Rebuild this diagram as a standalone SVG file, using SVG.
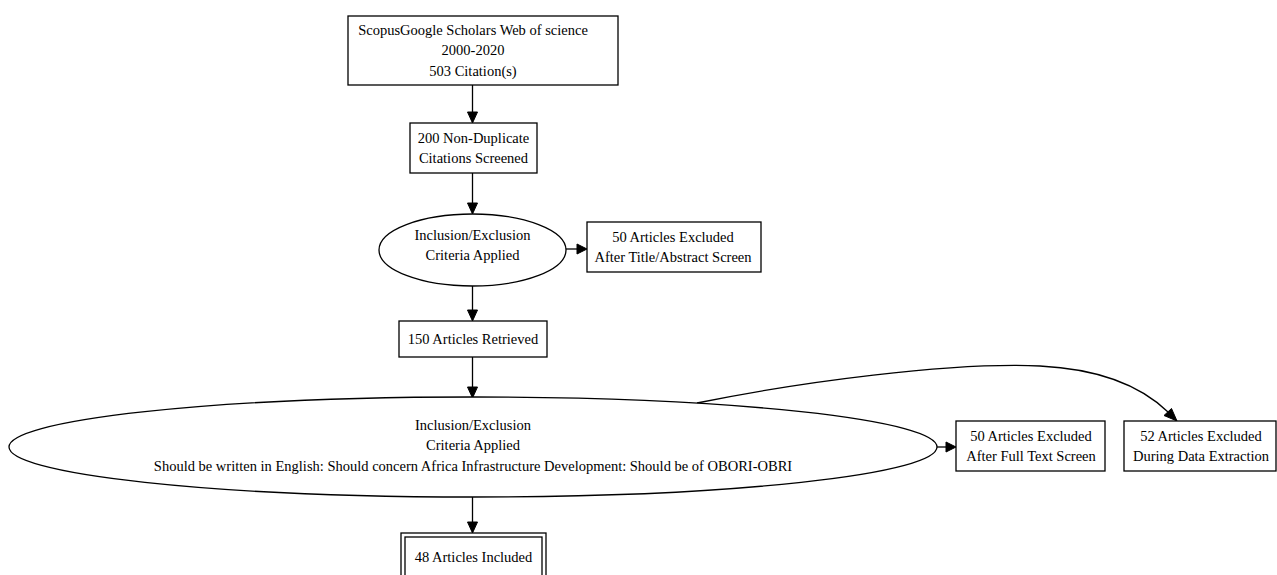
<svg xmlns="http://www.w3.org/2000/svg" width="1277" height="575" viewBox="0 0 1277 575">
<style>
.n{fill:#fff;stroke:#000;stroke-width:1.3}
.t{font-family:"Liberation Serif","Times New Roman",serif;font-size:14.5px;fill:#000;text-anchor:middle}
.e{fill:none;stroke:#000;stroke-width:1.3}
.a{fill:#000;stroke:#000;stroke-width:1}
</style>
<rect width="1277" height="575" fill="#fff"/>
<g id="edges">
<path class="e" d="M472.5,85 V112"/><polygon class="a" points="467.5,112 477.5,112 472.5,123"/>
<path class="e" d="M472.5,173 V203"/><polygon class="a" points="467.5,203 477.5,203 472.5,214"/>
<path class="e" d="M566,249 H577"/><polygon class="a" points="577,244 577,254 587,249"/>
<path class="e" d="M472.5,286 V310"/><polygon class="a" points="467.5,310 477.5,310 472.5,321"/>
<path class="e" d="M472.5,357 V387"/><polygon class="a" points="467.5,387 477.5,387 472.5,398"/>
<path class="e" d="M937,447 H946"/><polygon class="a" points="946,442 946,452 956,447"/>
<path class="e" d="M697,403 C800,382 950,362 1040,366 C1100,369 1140,385 1168,412"/><polygon class="a" points="1164,415.5 1171.5,408.5 1177,421"/>
<path class="e" d="M472.5,497 V522"/><polygon class="a" points="467.5,522 477.5,522 472.5,533"/>
</g>
<g id="n1"><rect class="n" x="348" y="16" width="270" height="69"/>
<text class="t" x="473" y="35">ScopusGoogle Scholars Web of science</text>
<text class="t" x="473" y="55">2000-2020</text>
<text class="t" x="473" y="76">503 Citation(s)</text></g>
<g id="n2"><rect class="n" x="410" y="123" width="127" height="50"/>
<text class="t" x="473.5" y="143">200 Non-Duplicate</text>
<text class="t" x="473.5" y="163">Citations Screened</text></g>
<g id="n3"><ellipse class="n" cx="472.5" cy="250" rx="93.5" ry="36"/>
<text class="t" x="472.5" y="240">Inclusion/Exclusion</text>
<text class="t" x="472.5" y="260">Criteria Applied</text></g>
<g id="n4"><rect class="n" x="587" y="222" width="174" height="50"/>
<text class="t" x="673" y="242">50 Articles Excluded</text>
<text class="t" x="673" y="262">After Title/Abstract Screen</text></g>
<g id="n5"><rect class="n" x="399" y="321" width="148" height="36"/>
<text class="t" x="473" y="344">150 Articles Retrieved</text></g>
<g id="n6"><ellipse class="n" cx="473" cy="447" rx="464" ry="50"/>
<text class="t" x="473" y="430">Inclusion/Exclusion</text>
<text class="t" x="473" y="450">Criteria Applied</text>
<text class="t" x="473" y="471">Should be written in English: Should concern Africa Infrastructure Development: Should be of OBORI-OBRI</text></g>
<g id="n7"><rect class="n" x="956" y="421" width="149" height="50"/>
<text class="t" x="1031" y="441">50 Articles Excluded</text>
<text class="t" x="1031" y="461">After Full Text Screen</text></g>
<g id="n8"><rect class="n" x="1124" y="421" width="152" height="50"/>
<text class="t" x="1201" y="441">52 Articles Excluded</text>
<text class="t" x="1201" y="461">During Data Extraction</text></g>
<g id="n9"><rect class="n" x="401" y="533" width="145" height="50"/>
<rect class="n" x="405" y="537" width="137" height="42"/>
<text class="t" x="473.5" y="562">48 Articles Included</text></g>
</svg>
